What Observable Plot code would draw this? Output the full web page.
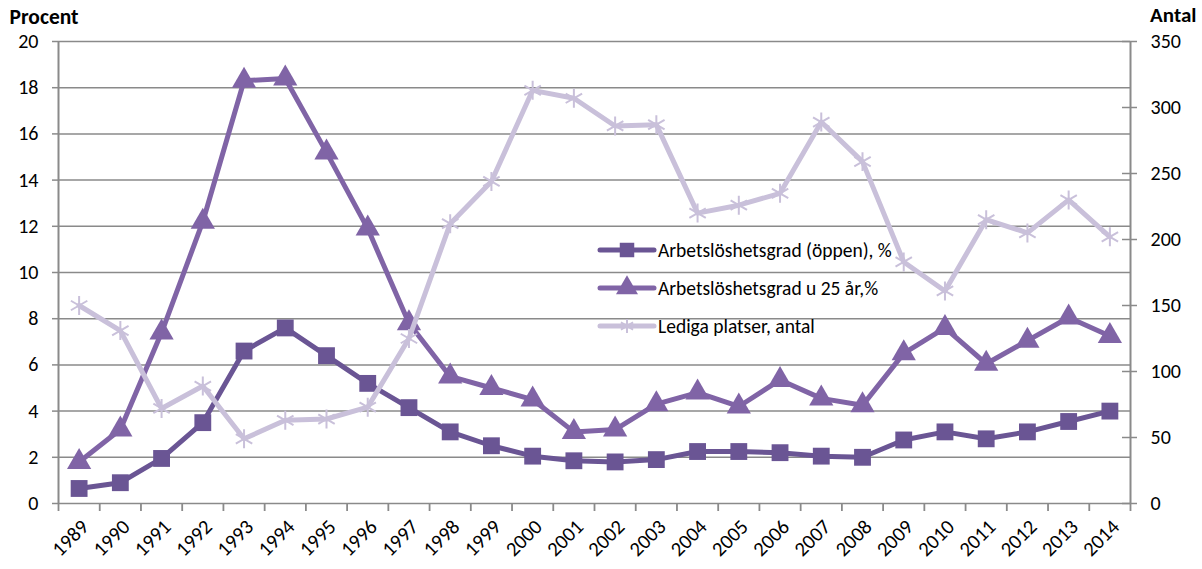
<!DOCTYPE html>
<html>
<head>
<meta charset="utf-8">
<script src="https://cdn.jsdelivr.net/npm/d3@7"></script>
<script src="https://cdn.jsdelivr.net/npm/@observablehq/plot@0.6"></script>
<style>
  html, body { margin: 0; padding: 0; background: #fff; }
  #chart { position: relative; width: 1202px; height: 569px; }
  svg { font-family: Carlito, Lato, "Noto Sans", sans-serif; }
</style>
</head>
<body>
<div id="chart"></div>
<script>
const years = [1989,1990,1991,1992,1993,1994,1995,1996,1997,1998,1999,2000,2001,2002,2003,2004,2005,2006,2007,2008,2009,2010,2011,2012,2013,2014];
const oppen = [0.65,0.9,1.95,3.5,6.6,7.6,6.4,5.2,4.15,3.1,2.5,2.05,1.85,1.8,1.9,2.25,2.25,2.2,2.05,2.0,2.75,3.1,2.8,3.1,3.55,4.0];
const unga = [1.8,3.2,7.4,12.2,18.3,18.4,15.2,11.9,7.8,5.5,5.0,4.5,3.1,3.2,4.3,4.8,4.2,5.35,4.55,4.25,6.5,7.6,6.05,7.05,8.05,7.25];
const lediga = [150,131,72,89,49,63,64,73,125,212,244,313,307,286,287,220,226,235,289,259,183,161,215,205,230,202];
const procentTicks = [0,2,4,6,8,10,12,14,16,18,20];
const antalTicks = [0,50,100,150,200,250,300,350];
const seriesNames = ["Arbetslöshetsgrad (öppen), %", "Arbetslöshetsgrad u 25 år,%", "Lediga platser, antal"];
const colors = ["#6a5594", "#8064a6", "#c9c0da"];
const antalMax = 350, procentMax = 20;
const toPct = v => v * procentMax / antalMax;

const bounds = [years[0] - 0.5, ...years.map(y => y + 0.5)];
const dOppen = years.map((y, i) => ({year: y, v: oppen[i]}));
const dUnga = years.map((y, i) => ({year: y, v: unga[i]}));
const dLediga = years.map((y, i) => ({year: y, v: toPct(lediga[i])}));

const gridColor = "#8a8a8a";
const fontSize = 19.5;

const plot = Plot.plot({
  width: 1202,
  height: 569,
  marginLeft: 58,
  marginRight: 72,
  marginTop: 41,
  marginBottom: 66,
  style: {fontSize: "19px", fontFamily: "Carlito, Lato, 'Noto Sans', sans-serif", color: "#000", background: "#fff"},
  x: {type: "linear", domain: [bounds[0], bounds[bounds.length - 1]]},
  y: {domain: [0, procentMax]},
  marks: [
    Plot.gridY(procentTicks, {stroke: gridColor, strokeOpacity: 1, strokeWidth: 1.5}),
    Plot.axisY(procentTicks, {anchor: "left", tickSize: 6, stroke: gridColor, strokeWidth: 1.5, tickPadding: 14, fontSize: 20, label: null}),
    Plot.ruleX([bounds[0], bounds[bounds.length - 1]], {stroke: gridColor, strokeWidth: 2}),
    Plot.axisX(bounds, {tickSize: 8, stroke: gridColor, strokeWidth: 1.8, tickFormat: () => "", label: null}),
    Plot.text(years, {x: d => d, y: 0, text: d => String(d), rotate: -45, textAnchor: "end", dx: 6, dy: 20, fontSize: 20.5, fill: "#000"}),
    Plot.ruleY(antalTicks, {y: d => toPct(d), x1: bounds[bounds.length - 1], x2: bounds[bounds.length - 1], insetLeft: -8, insetRight: -7, stroke: gridColor, strokeWidth: 1.5}),
    Plot.text(antalTicks, {y: d => toPct(d), x: bounds[bounds.length - 1], text: d => String(d), dx: 20, textAnchor: "start", fontSize: 20}),
    Plot.text(["Procent"], {frameAnchor: "top-left", dx: -49, dy: -33, fontWeight: "bold", fontSize: 21.5, textAnchor: "start"}),
    Plot.text(["Antal"], {frameAnchor: "top-right", dx: 66, dy: -34, fontWeight: "bold", fontSize: 21, textAnchor: "end"}),
    Plot.line(dOppen, {x: "year", y: "v", stroke: colors[0], strokeWidth: 5}),
    Plot.dot(dOppen, {x: "year", y: "v", symbol: "square", r: 9.5, fill: colors[0], stroke: null}),
    Plot.line(dUnga, {x: "year", y: "v", stroke: colors[1], strokeWidth: 5}),
    Plot.dot(dUnga, {x: "year", y: "v", symbol: "triangle", r: 9, fill: colors[1], stroke: null}),
    Plot.line(dLediga, {x: "year", y: "v", stroke: colors[2], strokeWidth: 5}),
    Plot.dot(dLediga, {x: "year", y: "v", symbol: "asterisk", r: 9, stroke: colors[2], strokeWidth: 2, fill: null})
  ]
});
document.getElementById("chart").appendChild(plot);

// legend
const svg = d3.select(plot);
const lg = svg.append("g").attr("transform", "translate(598,250)");
const symbols = [d3.symbolSquare, d3.symbolTriangle, d3.symbolAsterisk];
seriesNames.forEach((name, i) => {
  const g = lg.append("g").attr("transform", `translate(0,${i * 38})`);
  g.append("line").attr("x1", 2).attr("x2", 56).attr("y1", 0).attr("y2", 0)
    .attr("stroke", colors[i]).attr("stroke-width", 5).attr("stroke-linecap", "round");
  const s = g.append("path").attr("transform", "translate(29,0)")
    .attr("d", d3.symbol(symbols[i], i === 2 ? 140 : 210)());
  if (i === 2) s.attr("stroke", colors[i]).attr("stroke-width", 2).attr("fill", "none");
  else s.attr("fill", colors[i]);
  g.append("text").attr("x", 60).attr("y", 0).attr("dy", "0.35em")
    .attr("text-anchor", "start")
    .attr("font-size", fontSize).attr("fill", "#000").text(name);
});
</script>
</body>
</html>
